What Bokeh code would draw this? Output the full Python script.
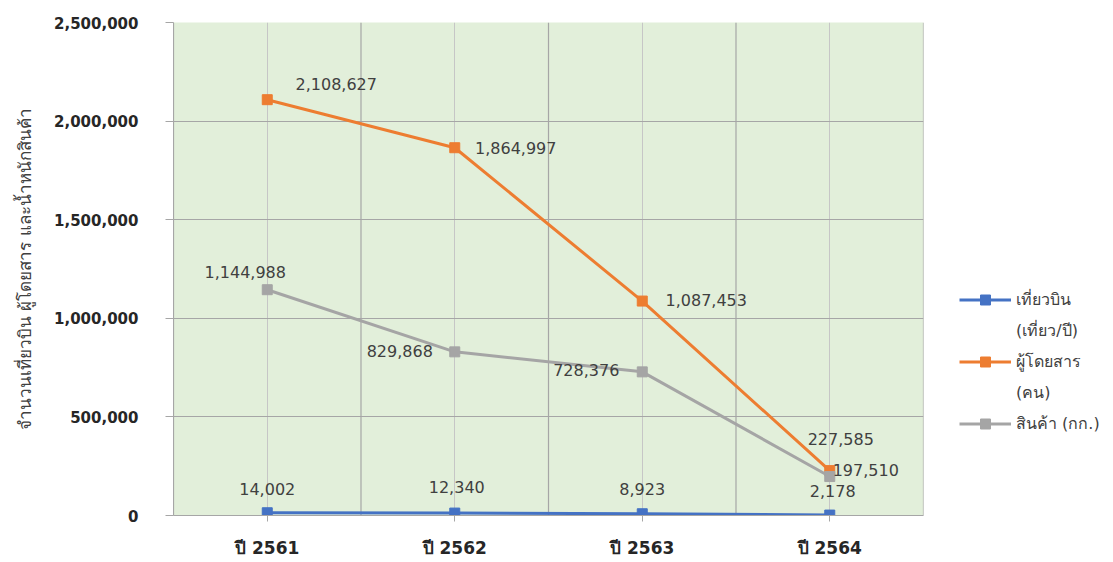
from bokeh.plotting import figure
from bokeh.layouts import row
from bokeh.models import (ColumnDataSource, Legend, LegendItem, Span, FixedTicker,
                          NumeralTickFormatter, Range1d, FactorRange)
from bokeh.core.properties import value
from bokeh.embed import file_html
from bokeh.resources import INLINE

# ---- data ----
categories = ["ปี 2561", "ปี 2562", "ปี 2563", "ปี 2564"]
flights = [14002, 12340, 8923, 2178]
passengers = [2108627, 1864997, 1087453, 227585]
cargo = [1144988, 829868, 728376, 197510]
series_names = ["เที่ยวบิน\n(เที่ยว/ปี)", "ผู้โดยสาร\n(คน)", "สินค้า (กก.)"]
y_ticks = [0, 500000, 1000000, 1500000, 2000000, 2500000]
y_title = "จำนวนเที่ยวบิน ผู้โดยสาร และน้ำหนักสินค้า"

# ---- label offsets (screen px) ----
flight_dx = [0, 2, 0, 3]
flight_dy = [-24, -26, -25, -24]
pass_dx = [69, 61, 64, 11]
pass_dy = [-16, 0, -1, -32]
cargo_dx = [-22, -55, -56, 36]
cargo_dy = [-18, -1, -2, -7]

colors = ["#4472C4", "#ED7D31", "#A5A5A5"]
FONT = "'DejaVu Sans', sans-serif"
LABEL_COLOR = "#404040"
NAN = float("nan")

p = figure(width=924, height=560, x_range=FactorRange(*categories, range_padding=0),
           y_range=Range1d(0, 2500000), output_backend="svg", toolbar_location=None,
           min_border_left=173, min_border_right=1, min_border_top=22, min_border_bottom=45,
           background_fill_color="#E2EFDA", border_fill_color="white")
p.outline_line_color = None

# grid
p.xgrid.grid_line_color = "#C6C6C6"
p.xgrid.grid_line_width = 1
p.ygrid.grid_line_color = "#A6A6A6"
p.ygrid.grid_line_width = 1.2
p.yaxis.ticker = FixedTicker(ticks=y_ticks)
for b in range(0, len(categories) + 1):
    p.add_layout(Span(location=b, dimension="height", line_color="#A6A6A6",
                      line_width=1.2, level="underlay"))

# axes
p.yaxis.formatter = NumeralTickFormatter(format="0,0")
p.yaxis.major_label_text_font = FONT
p.yaxis.major_label_text_font_size = "15px"
p.yaxis.major_label_text_font_style = "bold"
p.yaxis.major_label_text_color = "#262626"
p.yaxis.major_tick_out = 8
p.yaxis.major_tick_in = 0
p.yaxis.major_tick_line_color = "#A6A6A6"
p.yaxis.minor_tick_line_color = None
p.yaxis.axis_line_color = "#A6A6A6"
p.yaxis.major_label_standoff = 27
p.yaxis.axis_label = y_title
p.yaxis.axis_label_text_font = FONT
p.yaxis.axis_label_text_font_size = "17px"
p.yaxis.axis_label_text_font_style = "normal"
p.yaxis.axis_label_text_color = "#404040"
p.yaxis.axis_label_standoff = 16

p.xaxis.major_label_text_font = FONT
p.xaxis.major_label_text_font_size = "17px"
p.xaxis.major_label_text_font_style = "bold"
p.xaxis.major_label_text_color = "#262626"
p.xaxis.major_tick_out = 6
p.xaxis.major_tick_in = 0
p.xaxis.major_tick_line_color = "#A6A6A6"
p.xaxis.axis_line_color = "#A6A6A6"
p.xaxis.major_label_standoff = 16

# series
series = [flights, passengers, cargo]
dxs = [flight_dx, pass_dx, cargo_dx]
dys = [flight_dy, pass_dy, cargo_dy]
for vals, col, dx, dy in zip(series, colors, dxs, dys):
    src = ColumnDataSource(dict(x=categories, y=vals,
                                lab=[f"{v:,}" for v in vals], dx=dx, dy=dy))
    p.line("x", "y", source=src, line_color=col, line_width=3)
    p.scatter("x", "y", source=src, marker="square", size=10,
              fill_color=col, line_color=col)
    p.text("x", "y", text="lab", source=src, x_offset="dx", y_offset="dy",
           text_align="center", text_baseline="middle",
           text_font=value(FONT), text_font_size="16px", text_color=LABEL_COLOR)

# ---- legend in a side figure (proxy renderers with no visible data) ----
lf = figure(width=180, height=560, x_range=Range1d(0, 1), y_range=Range1d(0, 1),
            x_axis_type=None, y_axis_type=None, output_backend="svg",
            toolbar_location=None, min_border=0, outline_line_color=None,
            border_fill_color="white", background_fill_color="white")
items = []
for col, name in zip(colors, series_names):
    lines = name.split("\n")
    lr = lf.line(x=[NAN], y=[NAN], line_color=col, line_width=3)
    ls = lf.scatter(x=[NAN], y=[NAN], marker="square", size=10, fill_color=col, line_color=col)
    items.append(LegendItem(label=lines[0], renderers=[lr, ls]))
    for extra in lines[1:]:
        blank = lf.line(x=[NAN], y=[NAN], line_alpha=0)
        items.append(LegendItem(label=extra, renderers=[blank]))

legend = Legend(items=items, location=(35, 79), background_fill_alpha=0,
                border_line_color=None, label_text_font=FONT,
                label_text_font_size="16px", label_text_color=LABEL_COLOR,
                glyph_width=52, glyph_height=25, label_height=25,
                label_standoff=5, spacing=6, margin=0, padding=0)
lf.add_layout(legend, "center")

layout = row(p, lf)
open("out.html", "w").write(file_html(layout, INLINE))
